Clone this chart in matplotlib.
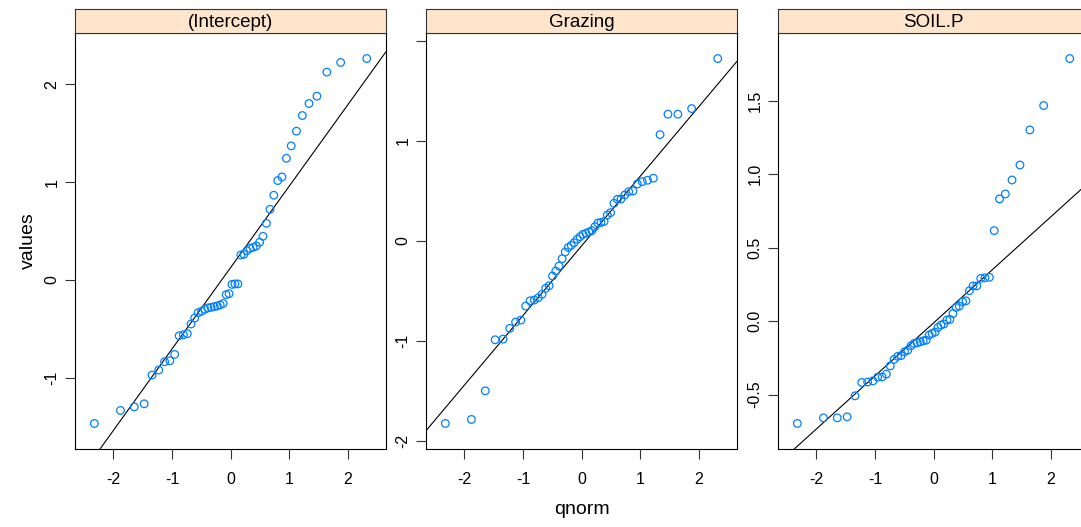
import numpy as np
import matplotlib
matplotlib.use("Agg")
import matplotlib.pyplot as plt

plt.rcParams["font.family"] = ["Liberation Sans", "DejaVu Sans"]

# theoretical normal quantiles, qnorm(ppoints(50))
qnorm_x = [-2.3263, -1.8808, -1.6449, -1.4758, -1.3408, -1.2265, -1.1264, -1.0364,
           -0.9542, -0.8779, -0.8064, -0.7388, -0.6745, -0.6128, -0.5534, -0.4959,
           -0.4399, -0.3853, -0.3319, -0.2793, -0.2275, -0.1764, -0.1257, -0.0753,
           -0.0251, 0.0251, 0.0753, 0.1257, 0.1764, 0.2275, 0.2793, 0.3319,
           0.3853, 0.4399, 0.4959, 0.5534, 0.6128, 0.6745, 0.7388, 0.8064,
           0.8779, 0.9542, 1.0364, 1.1264, 1.2265, 1.3408, 1.4758, 1.6449,
           1.8808, 2.3263]

panel_names = ["(Intercept)", "Grazing", "SOIL.P"]

intercept_vals = [-1.467, -1.334, -1.297, -1.266, -0.972, -0.921, -0.836, -0.826,
                  -0.761, -0.570, -0.560, -0.549, -0.450, -0.389, -0.334, -0.320,
                  -0.300, -0.285, -0.280, -0.272, -0.265, -0.255, -0.240, -0.150,
                  -0.140, -0.045, -0.040, -0.040, 0.256, 0.263, 0.300, 0.324,
                  0.334, 0.348, 0.386, 0.447, 0.580, 0.723, 0.867, 1.017,
                  1.054, 1.245, 1.372, 1.522, 1.682, 1.805, 1.880, 2.126,
                  2.225, 2.265]

grazing_vals = [-1.823, -1.783, -1.497, -0.987, -0.980, -0.873, -0.810, -0.790,
                -0.650, -0.597, -0.590, -0.567, -0.533, -0.473, -0.447, -0.350,
                -0.300, -0.250, -0.177, -0.110, -0.065, -0.043, -0.017, 0.017,
                0.043, 0.067, 0.077, 0.090, 0.103, 0.143, 0.180, 0.185,
                0.195, 0.260, 0.283, 0.377, 0.417, 0.420, 0.460, 0.493,
                0.500, 0.570, 0.593, 0.607, 0.627, 1.063, 1.267, 1.267,
                1.323, 1.823]

soilp_vals = [-0.697, -0.659, -0.659, -0.652, -0.509, -0.418, -0.415, -0.407,
              -0.382, -0.380, -0.361, -0.305, -0.261, -0.240, -0.235, -0.209,
              -0.198, -0.168, -0.152, -0.148, -0.141, -0.134, -0.130, -0.095,
              -0.084, -0.075, -0.043, -0.027, -0.020, 0.007, 0.012, 0.052,
              0.093, 0.102, 0.132, 0.138, 0.207, 0.239, 0.240, 0.291,
              0.295, 0.298, 0.616, 0.832, 0.866, 0.961, 1.063, 1.302,
              1.468, 1.788]

panel_vals = [intercept_vals, grazing_vals, soilp_vals]
y_ticks = [[-1, 0, 1, 2], [-2, -1, 0, 1, 2], [-0.5, 0.0, 0.5, 1.0, 1.5]]
y_ticklabels = [["-1", "0", "1", "2"], ["-2", "-1", "0", "1", ""],
                ["-0.5", "0.0", "0.5", "1.0", "1.5"]]
x_ticks = [-2, -1, 0, 1, 2]

W, H = 1081, 527
fig = plt.figure(figsize=(W / 100, H / 100), dpi=100)

lefts = [75.3, 426.3, 778.3]
pw = 310.5
top, bottom = 33, 449
strip_top = 9

x = np.array(qnorm_x)
for i in range(3):
    y = np.array(panel_vals[i])
    ax = fig.add_axes([lefts[i] / W, (H - bottom) / H, pw / W, (bottom - top) / H])
    ax.scatter(x, y, s=30, facecolors="none", edgecolors="#0080ff", linewidths=0.9, zorder=3)

    # qqline through the quartiles
    y25, y75 = np.percentile(y, [25, 75])
    slope = (y75 - y25) / (0.6745 * 2)
    icpt = y25 + slope * 0.6745

    xr = x.max() - x.min()
    xlim = (x.min() - 0.07 * xr, x.max() + 0.07 * xr)
    yr = y.max() - y.min()
    ylim = (y.min() - 0.07 * yr, y.max() + 0.07 * yr)
    xx = np.array(xlim)
    ax.plot(xx, icpt + slope * xx, color="black", lw=0.8, zorder=2)
    ax.set_xlim(xlim)
    ax.set_ylim(ylim)

    ax.set_xticks(x_ticks)
    ax.set_xticklabels([str(t) for t in x_ticks])
    ax.set_yticks(y_ticks[i])
    ax.set_yticklabels(y_ticklabels[i], rotation=90, va="center")
    ax.tick_params(direction="out", length=7.2, width=0.8, color="#333333",
                   labelsize=11.5)
    ax.tick_params(axis="x", pad=9.5)
    ax.tick_params(axis="y", pad=4)
    for sp in ax.spines.values():
        sp.set_linewidth(0.8)
        sp.set_color("black")

    st = fig.add_axes([lefts[i] / W, (H - top) / H, pw / W, (top - strip_top) / H])
    st.set_facecolor("#ffe5cc")
    st.set_xticks([])
    st.set_yticks([])
    for sp in st.spines.values():
        sp.set_linewidth(0.8)
        sp.set_color("#333333")
    st.text(0.5, 0.45, panel_names[i], ha="center", va="center", fontsize=13.5,
            transform=st.transAxes)

fig.text(28 / W, 1 - 241 / H, "values", rotation=90, ha="center", va="center", fontsize=14)
fig.text(582 / W, 1 - 510 / H, "qnorm", ha="center", va="center", fontsize=14)

fig.savefig("out.png", dpi=100)
